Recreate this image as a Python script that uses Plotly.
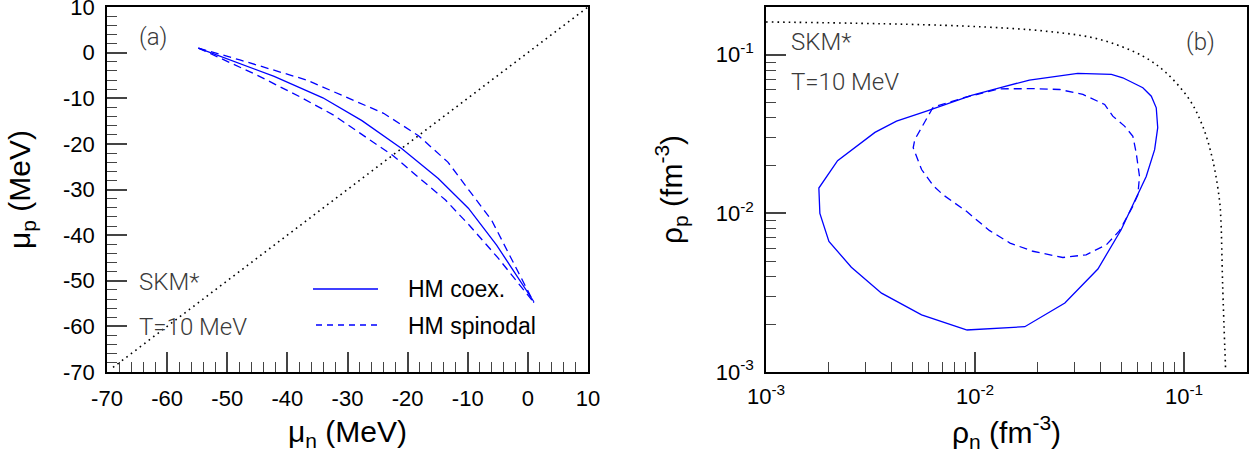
import plotly.graph_objects as go

# ---------------- Panel (a): chemical potentials (MeV) ----------------
coex_mun = [-54.8, -42.2, -34.1, -27.6, -21.0, -14.9, -9.9, -5.2, 1.0]
coex_mup = [1.0, -5.2, -9.9, -14.9, -21.0, -27.6, -34.1, -42.2, -54.6]

spin_up_mun = [-54.8, -47.9, -36.8, -24.0, -18.2, -13.3, -6.0, -1.6, 1.0]
spin_up_mup = [1.0, -1.6, -6.0, -13.3, -18.2, -24.0, -36.8, -47.9, -54.8]

spin_lo_mun = [-54.8, -45.1, -37.9, -32.3, -26.2, -22.5, -19.2, -13.7, -9.7, -4.9, 1.0]
spin_lo_mup = [1.0, -4.9, -9.7, -13.7, -19.2, -22.5, -26.2, -32.3, -37.9, -45.1, -54.8]

diag_mun = [-69, 10]
diag_mup = [-69, 10]

# ---------------- Panel (b): densities (fm^-3) ----------------
coex_rhon = [9.10e-3, 5.55e-3, 3.57e-3, 2.56e-3, 2.00e-3, 1.81e-3, 1.79e-3, 2.20e-3,
             3.32e-3, 4.21e-3, 5.86e-3, 7.71e-3, 9.62e-3, 1.31e-2, 1.82e-2, 3.10e-2,
             4.49e-2, 5.09e-2, 6.35e-2, 6.97e-2, 7.36e-2, 7.48e-2, 7.23e-2, 6.59e-2,
             5.80e-2, 5.00e-2, 3.87e-2, 2.69e-2, 1.73e-2, 9.10e-3]
coex_rhop = [1.84e-3, 2.29e-3, 3.14e-3, 4.58e-3, 6.65e-3, 1.00e-2, 1.445e-2, 2.15e-2,
             3.24e-2, 3.81e-2, 4.41e-2, 4.98e-2, 5.55e-2, 6.19e-2, 6.92e-2, 7.64e-2,
             7.52e-2, 7.16e-2, 6.19e-2, 5.48e-2, 4.63e-2, 3.47e-2, 2.52e-2, 1.71e-2,
             1.19e-2, 7.88e-3, 4.46e-3, 2.72e-3, 1.93e-3, 1.84e-3]

spin_rhon = [6.30e-3, 5.15e-3, 5.06e-3, 5.55e-3, 6.30e-3, 7.03e-3, 9.10e-3, 1.17e-2,
             1.47e-2, 1.89e-2, 2.63e-2, 3.40e-2, 4.25e-2, 4.91e-2, 5.69e-2, 6.01e-2,
             6.12e-2, 5.90e-2, 5.69e-2, 5.19e-2, 4.56e-2, 4.17e-2, 3.28e-2, 2.54e-2,
             1.96e-2, 1.31e-2, 8.93e-3, 6.30e-3]
spin_rhop = [4.67e-2, 2.92e-2, 2.59e-2, 1.89e-2, 1.50e-2, 1.31e-2, 1.03e-2, 7.81e-3,
             6.50e-3, 5.77e-3, 5.27e-3, 5.48e-3, 6.34e-3, 7.78e-3, 1.11e-2, 1.31e-2,
             1.71e-2, 2.41e-2, 3.06e-2, 3.55e-2, 4.10e-2, 4.86e-2, 5.62e-2, 6.04e-2,
             6.11e-2, 6.10e-2, 5.38e-2, 4.67e-2]

sat_rhon = [1.0e-3, 8.45e-3, 2.27e-2, 3.94e-2, 6.35e-2, 8.2e-2, 0.106, 0.1227, 0.137,
            0.1476, 0.150, 0.153, 0.158]
sat_rhop = [0.161, 0.152, 0.140, 0.125, 0.098, 0.077, 0.0522, 0.0355, 0.0218,
            0.0122, 0.0091, 0.00346, 0.00103]

# tick labels
a_ticks = [-70, -60, -50, -40, -30, -20, -10, 0, 10]
a_ticktext = ["-70", "-60", "-50", "-40", "-30", "-20", "-10", "0", "10"]
b_ticks = [1e-3, 1e-2, 1e-1]
b_ticktext = ["10<sup>-3</sup>", "10<sup>-2</sup>", "10<sup>-1</sup>"]
b_minor = [m * d for d in (1e-3, 1e-2) for m in range(2, 10)]

BLUE = "#0000ff"
W, H = 1256, 457
DOT = dict(color="black", width=1.6, dash="1.6px,4px")

fig = go.Figure()

# panel (a)
fig.add_trace(go.Scatter(x=diag_mun, y=diag_mup, mode="lines", line=DOT,
                         xaxis="x", yaxis="y", showlegend=False))
fig.add_trace(go.Scatter(x=spin_up_mun, y=spin_up_mup, mode="lines",
                         line=dict(color=BLUE, width=1.3, dash="8px,5px"),
                         xaxis="x", yaxis="y", showlegend=False))
fig.add_trace(go.Scatter(x=spin_lo_mun, y=spin_lo_mup, mode="lines",
                         line=dict(color=BLUE, width=1.3, dash="8px,5px"),
                         xaxis="x", yaxis="y", showlegend=False))
fig.add_trace(go.Scatter(x=coex_mun, y=coex_mup, mode="lines",
                         line=dict(color=BLUE, width=1.3),
                         xaxis="x", yaxis="y", showlegend=False))

# panel (b)
fig.add_trace(go.Scatter(x=sat_rhon, y=sat_rhop, mode="lines",
                         line=dict(DOT, shape="spline"),
                         xaxis="x2", yaxis="y2", showlegend=False))
fig.add_trace(go.Scatter(x=spin_rhon, y=spin_rhop, mode="lines",
                         line=dict(color=BLUE, width=1.3, dash="8px,5px"),
                         xaxis="x2", yaxis="y2", showlegend=False))
fig.add_trace(go.Scatter(x=coex_rhon, y=coex_rhop, mode="lines",
                         line=dict(color=BLUE, width=1.3),
                         xaxis="x2", yaxis="y2", showlegend=False))

TICKFONT = dict(family="Liberation Sans, Arial, sans-serif", size=22, color="black")
ax_common = dict(showline=True, linecolor="black", linewidth=1.5, mirror=True,
                 showgrid=False, zeroline=False, ticks="inside", ticklen=20,
                 tickwidth=1.5, tickcolor="#444", tickfont=TICKFONT, automargin=False,
                 ticklabeloverflow="allow")

def px_x(p):
    return p / W

def px_y(p):
    return 1 - p / H

yd = [px_y(372), px_y(7)]
minor_common = dict(ticks="inside", ticklen=10, tickwidth=1.2, tickcolor="#444")
fig.update_layout(
    template="none",
    width=W, height=H, autosize=False,
    margin=dict(l=0, r=0, t=0, b=0, pad=0),
    paper_bgcolor="white", plot_bgcolor="white",
    xaxis=dict(domain=[px_x(107), px_x(588)], range=[-70, 10], anchor="y",
               tickmode="array", tickvals=a_ticks, ticktext=a_ticktext, ticklabelstandoff=6,
               minor=dict(dtick=2, **minor_common), **ax_common),
    yaxis=dict(domain=yd, range=[-70, 10], anchor="x",
               tickmode="array", tickvals=a_ticks, ticktext=a_ticktext, ticklabelstandoff=6,
               minor=dict(dtick=2, **minor_common), **ax_common),
    xaxis2=dict(domain=[px_x(766), px_x(1247)], type="log", range=[-3, -0.699], anchor="y2",
                tickmode="array", tickvals=b_ticks, ticktext=b_ticktext, ticklabelstandoff=4,
                minor=dict(tickvals=b_minor, **minor_common), **ax_common),
    yaxis2=dict(domain=yd, type="log", range=[-3, -0.699], anchor="x2",
                tickmode="array", tickvals=b_ticks, ticktext=b_ticktext, ticklabelstandoff=6,
                minor=dict(tickvals=b_minor, **minor_common), **ax_common),
)

LIGHT = dict(family="Roboto, Lato, sans-serif", size=24, color="#3a3a3a", weight=300)
TITLE = dict(family="Liberation Sans, Arial, sans-serif", size=30, color="black")
LEG = dict(family="Liberation Sans, Arial, sans-serif", size=23, color="black")

ann = []
def text(x, y, s, font, xanchor="left", angle=0):
    ann.append(dict(x=px_x(x), y=px_y(y), xref="paper", yref="paper", text=s,
                    showarrow=False, font=font, xanchor=xanchor, yanchor="middle",
                    textangle=angle))

text(137, 37, "(a)", LIGHT)
text(137, 282, "SKM*", LIGHT)
text(137, 327, "T=10 MeV", LIGHT)
text(1184, 42, "(b)", LIGHT)
text(789, 42, "SKM*", LIGHT)
text(789, 82, "T=10 MeV", LIGHT)
text(406, 289, "HM coex.", LEG)
text(406, 326, "HM spinodal", LEG)

text(347, 433, "μ<sub>n</sub> (MeV)", TITLE, xanchor="center")
text(1006, 432, "ρ<sub>n</sub> (fm<sup>-3</sup>)", TITLE, xanchor="center")
text(22, 190, "μ<sub>p</sub> (MeV)", TITLE, xanchor="center", angle=-90)
text(671, 190, "ρ<sub>p</sub> (fm<sup>-3</sup>)", TITLE, xanchor="center", angle=-90)

fig.update_layout(annotations=ann)

fig.update_layout(shapes=[
    dict(type="line", xref="paper", yref="paper", x0=px_x(313), x1=px_x(378),
         y0=px_y(289), y1=px_y(289), line=dict(color=BLUE, width=1.3)),
    dict(type="line", xref="paper", yref="paper", x0=px_x(316), x1=px_x(378),
         y0=px_y(325), y1=px_y(325), line=dict(color=BLUE, width=1.3, dash="6px,5px")),
])

fig.write_html("out.html", config={"displayModeBar": False},
               post_script="document.body.style.margin='0';document.body.style.overflow='hidden';")
